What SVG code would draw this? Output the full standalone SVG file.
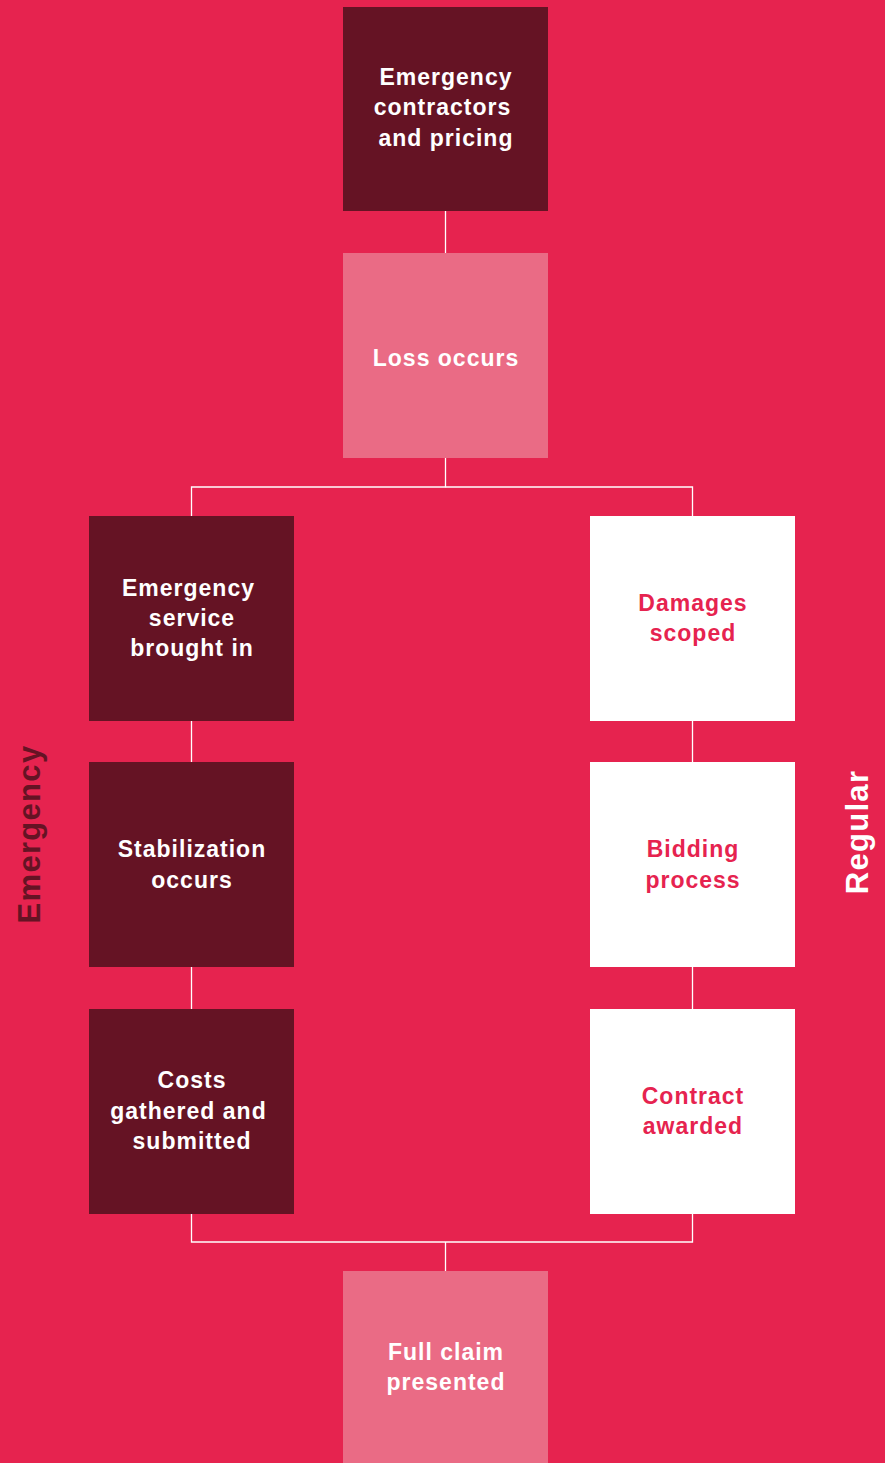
<svg xmlns="http://www.w3.org/2000/svg" width="885" height="1463" viewBox="0 0 885 1463">
<style>
.dark{fill:#651324}
.pink{fill:#EA6B85}
.white{fill:#FFFFFF}
.t{font-family:"Liberation Sans",Arial,sans-serif;font-weight:bold;font-size:23px;text-anchor:middle;letter-spacing:1px}
.tw{fill:#FFFFFF}
.tr{fill:#E6234F}
.conn{stroke:#FFFFFF;stroke-width:1.3;fill:none}
.side{font-family:"Liberation Sans",Arial,sans-serif;font-weight:bold;font-size:31px;text-anchor:middle;letter-spacing:1.3px}
</style>
<rect width="885" height="1463" fill="#E6234F"/>
<g id="connectors">
<line class="conn" x1="445.5" y1="211" x2="445.5" y2="253"/>
<polyline class="conn" points="445.5,458 445.5,487 191.5,487 191.5,516"/>
<polyline class="conn" points="445.5,487 692.5,487 692.5,516"/>
<line class="conn" x1="191.5" y1="721" x2="191.5" y2="762"/>
<line class="conn" x1="191.5" y1="967" x2="191.5" y2="1009"/>
<line class="conn" x1="692.5" y1="721" x2="692.5" y2="762"/>
<line class="conn" x1="692.5" y1="967" x2="692.5" y2="1009"/>
<polyline class="conn" points="191.5,1214 191.5,1242 692.5,1242 692.5,1214"/>
<line class="conn" x1="445.5" y1="1242" x2="445.5" y2="1271"/>
</g>
<g id="n1"><rect class="dark" x="343" y="7" width="205" height="204"/>
<text class="t tw" x="445.5"><tspan x="446" y="85">Emergency</tspan><tspan x="442.5" y="115">contractors</tspan><tspan x="446" y="146">and pricing</tspan></text></g>
<g id="n2"><rect class="pink" x="343" y="253" width="205" height="205"/>
<text class="t tw" x="446" y="366">Loss occurs</text></g>
<g id="n3"><rect class="dark" x="89" y="516" width="205" height="205"/>
<text class="t tw"><tspan x="188.5" y="596">Emergency</tspan><tspan x="192" y="626">service</tspan><tspan x="192" y="656">brought in</tspan></text></g>
<g id="n4"><rect class="dark" x="89" y="762" width="205" height="205"/>
<text class="t tw"><tspan x="192" y="857">Stabilization</tspan><tspan x="192" y="888">occurs</tspan></text></g>
<g id="n5"><rect class="dark" x="89" y="1009" width="205" height="205"/>
<text class="t tw"><tspan x="192" y="1088">Costs</tspan><tspan x="188.5" y="1119">gathered and</tspan><tspan x="192" y="1149">submitted</tspan></text></g>
<g id="n6"><rect class="white" x="590" y="516" width="205" height="205"/>
<text class="t tr"><tspan x="693" y="611">Damages</tspan><tspan x="693" y="641">scoped</tspan></text></g>
<g id="n7"><rect class="white" x="590" y="762" width="205" height="205"/>
<text class="t tr"><tspan x="693" y="857">Bidding</tspan><tspan x="693" y="888">process</tspan></text></g>
<g id="n8"><rect class="white" x="590" y="1009" width="205" height="205"/>
<text class="t tr"><tspan x="693" y="1104">Contract</tspan><tspan x="693" y="1134">awarded</tspan></text></g>
<g id="n9"><rect class="pink" x="343" y="1271" width="205" height="192"/>
<text class="t tw"><tspan x="446" y="1360">Full claim</tspan><tspan x="446" y="1390">presented</tspan></text></g>
<g id="label-emergency"><text class="side" fill="#651324" transform="translate(40,834) rotate(-90)">Emergency</text></g>
<g id="label-regular"><text class="side" fill="#FFFFFF" transform="translate(868,832) rotate(-90)">Regular</text></g>
</svg>
